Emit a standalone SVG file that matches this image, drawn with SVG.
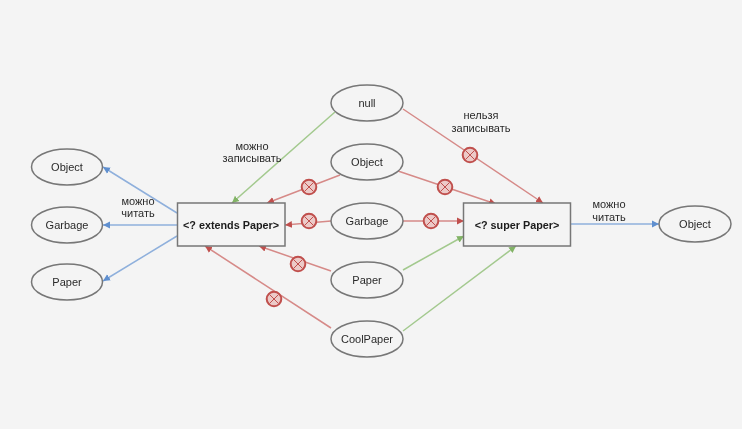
<svg xmlns="http://www.w3.org/2000/svg" width="742" height="429" viewBox="0 0 742 429">
<style>
.n ellipse,.n rect{fill:#f4f4f4;stroke:#777;stroke-width:1.5}
text{font-family:"Liberation Sans",Arial,sans-serif;font-size:11px;fill:#2a2a2a;text-anchor:middle}
.b{font-weight:bold;font-size:10.8px;fill:#1a1a1a}
.blue{stroke:#8fb0dc;fill:none;stroke-width:1.5;marker-end:url(#ab)}
.green{stroke:#a3c98e;fill:none;stroke-width:1.5;marker-end:url(#ag)}
.red{stroke:#d68a88;fill:none;stroke-width:1.5;marker-end:url(#ar)}
.xc{fill:#eccac8;stroke:#c0504d;stroke-width:2}
.xl{stroke:#c0504d;stroke-width:1;fill:none}
</style>
<defs>
<marker id="ab" markerUnits="userSpaceOnUse" markerWidth="8" markerHeight="8" refX="7" refY="4" orient="auto"><path d="M0 0.500L7 4L0 7.500z" fill="#5f8fcf"/></marker>
<marker id="ag" markerUnits="userSpaceOnUse" markerWidth="8" markerHeight="8" refX="7" refY="4" orient="auto"><path d="M0 0.500L7 4L0 7.500z" fill="#82b366"/></marker>
<marker id="ar" markerUnits="userSpaceOnUse" markerWidth="8" markerHeight="8" refX="7" refY="4" orient="auto"><path d="M0 0.500L7 4L0 7.500z" fill="#c0504d"/></marker>
<g id="xm"><circle class="xc" r="7.300"/><path class="xl" d="M-4.500-4.500L4.500 4.500M-4.500 4.500L4.500-4.500"/></g>
<filter id="soft" filterUnits="userSpaceOnUse" x="0" y="0" width="742" height="429"><feGaussianBlur stdDeviation="0.55"/></filter>
</defs>
<rect width="742" height="429" fill="#f4f4f4"/>
<g filter="url(#soft)">
<g id="connectors">
<path class="blue" d="M177 213L103 167"/>
<path class="blue" d="M177 225L103 225"/>
<path class="blue" d="M177 236L103 281"/>
<path class="blue" d="M570 224L659 224"/>
<path class="green" d="M335 112L232 203"/>
<path class="green" d="M403 270L464 236"/>
<path class="green" d="M403 331L516 246"/>
<path class="red" d="M403 109L543 203"/>
<path class="red" d="M340 175L267 203"/>
<path class="red" d="M398 171L496 204"/>
<path class="red" d="M331 221L285 225"/>
<path class="red" d="M403 221L464 221"/>
<path class="red" d="M331 271L259 246"/>
<path class="red" d="M331 328L205 246"/>
</g>
<g id="marks">
<use href="#xm" x="470" y="155"/>
<use href="#xm" x="309" y="187"/>
<use href="#xm" x="445" y="187"/>
<use href="#xm" x="309" y="221"/>
<use href="#xm" x="431" y="221"/>
<use href="#xm" x="298" y="264"/>
<use href="#xm" x="274" y="299"/>
</g>
<g id="l-object" class="n"><ellipse cx="67" cy="167" rx="35.500" ry="18"/><text x="67" y="171">Object</text></g>
<g id="l-garbage" class="n"><ellipse cx="67" cy="225" rx="35.500" ry="18"/><text x="67" y="229">Garbage</text></g>
<g id="l-paper" class="n"><ellipse cx="67" cy="282" rx="35.500" ry="18"/><text x="67" y="286">Paper</text></g>
<g id="m-null" class="n"><ellipse cx="367" cy="103" rx="36" ry="18"/><text x="367" y="107">null</text></g>
<g id="m-object" class="n"><ellipse cx="367" cy="162" rx="36" ry="18"/><text x="367" y="166">Object</text></g>
<g id="m-garbage" class="n"><ellipse cx="367" cy="221" rx="36" ry="18"/><text x="367" y="225">Garbage</text></g>
<g id="m-paper" class="n"><ellipse cx="367" cy="280" rx="36" ry="18"/><text x="367" y="284">Paper</text></g>
<g id="m-coolpaper" class="n"><ellipse cx="367" cy="339" rx="36" ry="18"/><text x="367" y="343">CoolPaper</text></g>
<g id="r-object" class="n"><ellipse cx="695" cy="224" rx="36" ry="18"/><text x="695" y="228">Object</text></g>
<g id="extends" class="n"><rect x="177.500" y="203" width="107.500" height="43"/><text class="b" x="231" y="229">&lt;? extends Paper&gt;</text></g>
<g id="super" class="n"><rect x="463.500" y="203" width="107" height="43"/><text class="b" x="517" y="229">&lt;? super Paper&gt;</text></g>
<g id="labels">
<text x="138" y="205">можно</text><text x="138" y="217">читать</text>
<text x="252" y="150">можно</text><text x="252" y="162">записывать</text>
<text x="481" y="119">нельзя</text><text x="481" y="132">записывать</text>
<text x="609" y="208">можно</text><text x="609" y="221">читать</text>
</g>
</g>
</svg>
